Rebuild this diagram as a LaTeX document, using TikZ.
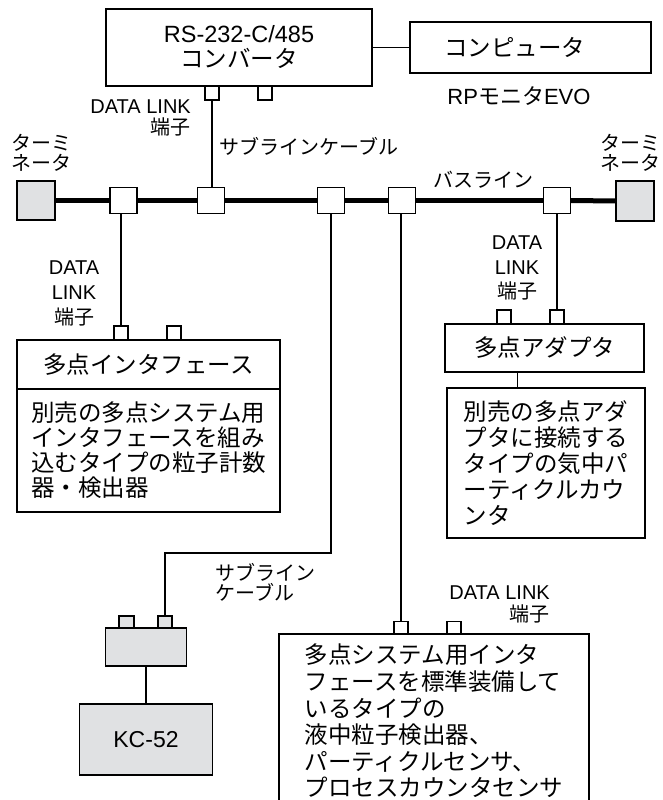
\documentclass[tikz,border=0pt]{standalone}
\usepackage{fontspec}
\setmainfont{Liberation Sans}
\newfontfamily\jp{Noto Sans CJK JP}
\usepackage{tikz}
\usetikzlibrary{positioning}
\definecolor{boxgray}{RGB}{224,225,227}
\tikzset{box/.style={draw,line width=1.5pt,inner sep=0pt,fill=white},
  port/.style={draw,line width=1.4pt,inner sep=0pt,minimum width=14pt,minimum height=14pt,fill=white},
  junc/.style={draw,line width=1.4pt,inner sep=0pt,minimum width=27pt,minimum height=26pt,fill=white},
  term/.style={draw,line width=1.5pt,inner sep=0pt,minimum width=38pt,minimum height=39pt,fill=boxgray},
  lbl/.style={inner sep=0pt,font=\jp\fontsize{20}{20}\selectfont},
  big/.style={font=\jp\fontsize{23.5}{25}\selectfont},
  bus/.style={line width=5pt},
  wire/.style={line width=1.4pt}}

\begin{document}
\begin{tikzpicture}[x=1pt,y=-1pt,line join=miter]
\useasboundingbox (0,0) rectangle (662,800);
\clip (0,0) rectangle (662,800);
% --- converter and computer
\node[box,big,minimum width=266pt,minimum height=77pt,align=center] (conv) at (239,47.5) {{\rmfamily RS-232-C/485}\\コンバータ};
\node[box,minimum width=241pt,minimum height=51pt,label={[big,xshift=-16pt]center:コンピュータ}] (comp) at (530.5,47.5) {};
\node[lbl,font=\fontsize{22}{22}\selectfont] (rpmon) at (519,96) {RP{\jp モニタ}EVO};
\node[port] (cport1) at (212,93) {};
\node[port] (cport2) at (265,93) {};
\node[lbl,anchor=east,align=right,font=\fontsize{20}{21}\selectfont] (dlconv) at (191,117.5) {DATA LINK\\{\jp 端子}};
\node[lbl,anchor=west] (subtop) at (219,146) {サブラインケーブル};
% --- bus line
\node[term] (lterm) at (36,200.5) {};
\node[term,minimum height=40pt] (rterm) at (635,201) {};
\node[lbl,anchor=west,align=left] (ltermlbl) at (11,153) {ターミ\\ネータ};
\node[lbl,anchor=west,align=left] (rtermlbl) at (600,153) {ターミ\\ネータ};
\node[lbl,anchor=west] (buslbl) at (433,180) {バスライン};
\node[junc] (j1) at (123.5,200.5) {};
\node[junc] (j2) at (211,200.5) {};
\node[junc] (j3) at (331,200.5) {};
\node[junc] (j4) at (402,200.5) {};
\node[junc] (j5) at (557,200.5) {};
\foreach \a/\b in {lterm/j1,j1/j2,j2/j3,j3/j4,j4/j5,j5/rterm}
  \draw[bus] (\a.east) -- (\b.west);
% --- multipoint interface
\node[lbl,align=center,font=\fontsize{20}{25}\selectfont] (dlif) at (74,293) {DATA\\LINK\\{\jp 端子}};
\node[port] (ifport1) at (121,333) {};
\node[port] (ifport2) at (174,333) {};
\node[box,big,minimum width=263pt,minimum height=49pt] (ifhead) at (148.5,364.5) {多点インタフェース};
\node[box,big,minimum width=263pt,minimum height=123pt,align=left] (ifbody) at (148.5,450.5) {別売の多点システム用\\インタフェースを組み\\込むタイプの粒子計数\\器・検出器};
% --- multipoint adapter
\node[lbl,align=center,font=\fontsize{20}{24.5}\selectfont] (dladapt) at (517,268) {DATA\\LINK\\{\jp 端子}};
\node[port] (aport1) at (504,317) {};
\node[port] (aport2) at (557,317) {};
\node[box,big,minimum width=199pt,minimum height=48pt] (ahead) at (544.5,348) {多点アダプタ};
\node[box,big,font=\jp\fontsize{23.5}{26}\selectfont,minimum width=198pt,minimum height=150pt,align=left] (abody) at (546,463) {別売の多点アダ\\プタに接続する\\タイプの気中パ\\ーティクルカウ\\ンタ};
% --- KC-52
\node[lbl,anchor=west,align=left] (sublow) at (215,582) {サブライン\\ケーブル};
\node[port,fill=boxgray,minimum width=15pt,minimum height=12pt] (kport1) at (126.5,622) {};
\node[port,fill=boxgray,minimum height=12pt] (kport2) at (165,622) {};
\node[box,fill=boxgray,minimum width=81pt,minimum height=38pt] (kadapt) at (146,647) {};
\node[box,fill=boxgray,minimum width=133pt,minimum height=71pt,font=\fontsize{23}{23}\selectfont] (kc52) at (146,739.5) {KC-52};
% --- built-in interface
\node[lbl,anchor=east,align=right,font=\fontsize{20}{22}\selectfont] (dlbottom) at (550,604) {DATA LINK\\{\jp 端子}};
\node[port,minimum height=13pt] (bport1) at (401,628) {};
\node[port,minimum height=13pt] (bport2) at (454,628) {};
\node[box,big,font=\jp\fontsize{23.5}{26.6}\selectfont,minimum width=310pt,minimum height=174pt,align=left] (bbox) at (434,721) {多点システム用インタ\\フェースを標準装備して\\いるタイプの\\液中粒子検出器、\\パーティクルセンサ、\\プロセスカウンタセンサ};
% --- connectors
\coordinate (bend) at (165,553);
\draw[wire] (conv.east) -- (comp.west);
\draw[wire] (cport1.south) -- (cport1.south |- j2.north);
\draw[wire] (ifport1.north) -- (ifport1.north |- j1.south);
\draw[wire] (j3.south) |- (bend) -- (kport2.north);
\draw[wire] (kadapt.south) -- (kc52.north);
\draw[wire] (bport1.north) -- (bport1.north |- j4.south);
\draw[wire] (aport2.north) -- (aport2.north |- j5.south);
\draw[wire] ([xshift=-27pt]ahead.south) -- ([xshift=-27pt]ahead.south |- abody.north);
\end{tikzpicture}
\end{document}
